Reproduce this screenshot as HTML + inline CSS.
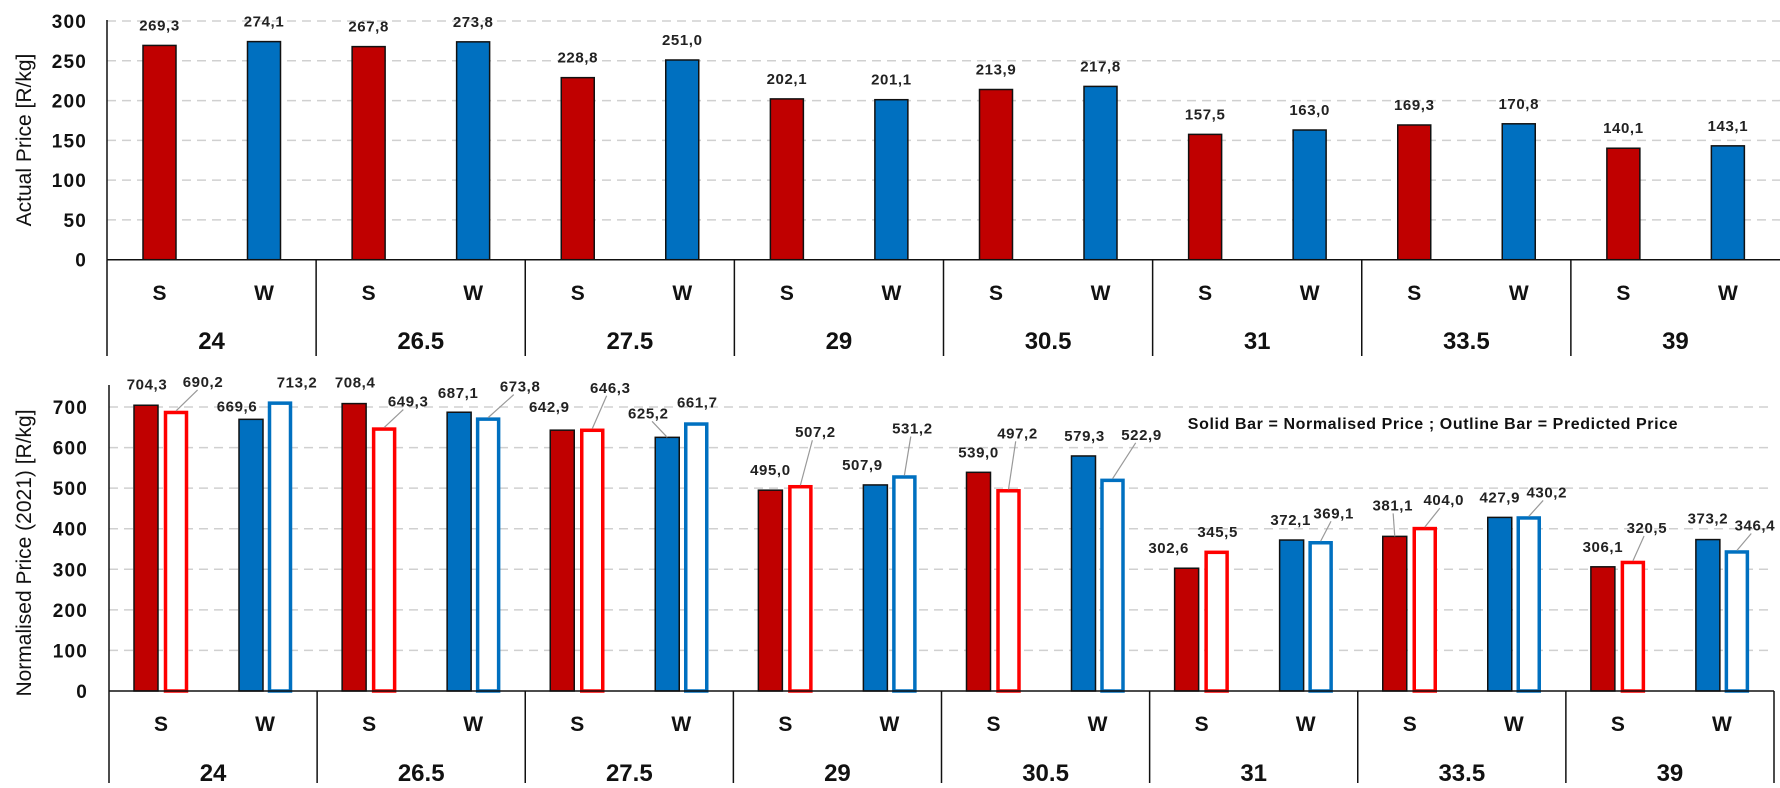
<!DOCTYPE html>
<html><head><meta charset="utf-8">
<style>
html,body{margin:0;padding:0;background:#fff;}
svg{display:block;font-family:"Liberation Sans",sans-serif;}
</style></head>
<body>
<svg id="chart" width="1780" height="788" viewBox="0 0 1780 788"></svg>
<script>
const groups = ["24","26.5","27.5","29","30.5","31","33.5","39"];
const seasons = ["S","W"];
const actualS = [269.3,267.8,228.8,202.1,213.9,157.5,169.3,140.1];
const actualW = [274.1,273.8,251.0,201.1,217.8,163.0,170.8,143.1];
const normS = [704.3,708.4,642.9,495.0,539.0,302.6,381.1,306.1];
const predS = [690.2,649.3,646.3,507.2,497.2,345.5,404.0,320.5];
const normW = [669.6,687.1,625.2,507.9,579.3,372.1,427.9,373.2];
const predW = [713.2,673.8,661.7,531.2,522.9,369.1,430.2,346.4];
const topTicks = [0,50,100,150,200,250,300];
const botTicks = [0,100,200,300,400,500,600,700];
// label offsets (style): [dx,dy,leader] per bar in order normS,predS,normW,predW
const labOff = [
 [[1,-21,0],[27,-29,1],[-14,-13,0],[17,-19,0]],
 [[1,-21,0],[24,-26,1],[-1,-19,0],[32,-31,1]],
 [[-13,-23,0],[18,-41,1],[-19,-24,1],[1,-20,0]],
 [[0,-20,0],[15,-53,1],[-13,-20,0],[8,-47,1]],
 [[0,-20,0],[9,-56,1],[1,-20,0],[29,-44,1]],
 [[-18,-20,0],[1,-19,0],[-1,-20,0],[13,-28,1]],
 [[-2,-31,1],[19,-27,1],[0,-20,0],[18,-24,1]],
 [[0,-20,0],[14,-33,1],[0,-21,0],[18,-25,1]]
];
const NS="http://www.w3.org/2000/svg";
const svg=document.getElementById('chart');
function mk(tag,attrs,parent,text){const e=document.createElementNS(NS,tag);for(const k in attrs)e.setAttribute(k,attrs[k]);if(text!==undefined)e.textContent=text;(parent||svg).appendChild(e);return e;}
const fmt=v=>v.toFixed(1).replace('.',',');
const LBL={'font-size':15,'font-weight':'bold',fill:'#222','letter-spacing':0.6};
const TICK={'font-size':19,'font-weight':'bold',fill:'#111','letter-spacing':1.2};

// ---------- TOP CHART ----------
const T={x0:107,x1:1780,y0:259.7,max:300,h:238.7};
const tY=v=>T.y0-v/T.max*T.h;
const tGW=(T.x1-T.x0)/groups.length;
const gTop=mk('g',{});


topTicks.forEach(t=>{
  if(t>0){const l=mk('line',{x1:T.x0,x2:T.x1,y1:tY(t),y2:tY(t),stroke:'#d0d0d0','stroke-width':1.5,'stroke-dasharray':'9 6'},gTop);
  }
  const tx=mk('text',Object.assign({x:87,y:tY(t)+7,'text-anchor':'end'},TICK),gTop,String(t));
  
});
let yt=mk('text',{x:0,y:0,transform:'translate(31,140) rotate(-90)','text-anchor':'middle','font-size':21,fill:'#111'},gTop,'Actual Price [R/kg]');

groups.forEach((g,i)=>{
  const gs=T.x0+i*tGW;
  [[actualS[i],'#c00000',52.5,'S'],[actualW[i],'#0070c0',157,'W']].forEach(([v,c,off,s])=>{
    const cx=gs+off;
    const r=mk('rect',{x:cx-16.5,y:tY(v),width:33,height:T.y0-tY(v),fill:c,stroke:'#111','stroke-width':1.5},gTop);
    
    const lb=mk('text',Object.assign({x:cx,y:tY(v)-15,'text-anchor':'middle'},LBL),gTop,fmt(v));
    
    const sl=mk('text',{x:cx,y:300,'text-anchor':'middle','font-size':21,'font-weight':'bold',fill:'#111'},gTop,s);
    
  });
  const gl=mk('text',{x:gs+tGW/2,y:349,'text-anchor':'middle','font-size':24,'font-weight':'bold',fill:'#111'},gTop,g);
  
  const sep=mk('line',{x1:gs,x2:gs,y1:T.y0,y2:356,stroke:'#111','stroke-width':1.5},gTop);
  
});
let ax=mk('line',{x1:T.x0,x2:T.x1,y1:T.y0,y2:T.y0,stroke:'#111','stroke-width':1.5},gTop);

ax=mk('line',{x1:T.x0,x2:T.x0,y1:20,y2:T.y0,stroke:'#111','stroke-width':1.5},gTop);


// ---------- BOTTOM CHART ----------
const B={x0:109,x1:1774,y0:691,max:700,h:284};
const bY=v=>B.y0-v/B.max*B.h;
const bGW=(B.x1-B.x0)/groups.length;
const gBot=mk('g',{});


botTicks.forEach(t=>{
  if(t>0){const l=mk('line',{x1:B.x0,x2:B.x1,y1:bY(t),y2:bY(t),stroke:'#d0d0d0','stroke-width':1.5,'stroke-dasharray':'9 6'},gBot);
  }
  const tx=mk('text',Object.assign({x:88,y:bY(t)+7,'text-anchor':'end'},TICK),gBot,String(t));
  
});
yt=mk('text',{x:0,y:0,transform:'translate(31,553) rotate(-90)','text-anchor':'middle','font-size':21,fill:'#111'},gBot,'Normalised Price (2021) [R/kg]');

const lg=mk('text',{x:1433,y:429,'text-anchor':'middle','font-size':16,'font-weight':'bold',fill:'#111','letter-spacing':0.6},gBot,'Solid Bar = Normalised Price ; Outline Bar = Predicted Price');

groups.forEach((g,i)=>{
  const gs=B.x0+i*bGW;
  const bars=[[normS[i],'#c00000',37,true,'normalised-S'],[predS[i],'#ff0000',67,false,'predicted-S'],
              [normW[i],'#0070c0',142,true,'normalised-W'],[predW[i],'#0070c0',171,false,'predicted-W']];
  bars.forEach(([v,c,off,solid,nm],k)=>{
    const cx=gs+off, top=bY(v);
    let r;
    if(solid) r=mk('rect',{x:cx-12,y:top,width:24,height:B.y0-top,fill:c,stroke:'#111','stroke-width':1.5},gBot);
    else r=mk('rect',{x:cx-10.5,y:top+1.5,width:21,height:B.y0-top-1.5,fill:'#fff',stroke:c,'stroke-width':3.5},gBot);
    
    const [dx,dy,lead]=labOff[i][k];
    const lx=cx+dx, ly=top+dy;
    if(lead){const ll=mk('line',{x1:lx-dx*0.2,y1:ly+8,x2:cx,y2:top,stroke:'#999','stroke-width':1.2},gBot);
      }
    const lb=mk('text',Object.assign({x:lx,y:ly+5,'text-anchor':'middle'},LBL),gBot,fmt(v));
    
  });
  [['S',52],['W',156]].forEach(([s,off])=>{
    const sl=mk('text',{x:gs+off,y:731,'text-anchor':'middle','font-size':21,'font-weight':'bold',fill:'#111'},gBot,s);
    
  });
  const gl=mk('text',{x:gs+bGW/2,y:781,'text-anchor':'middle','font-size':24,'font-weight':'bold',fill:'#111'},gBot,g);
  
  const sep=mk('line',{x1:gs,x2:gs,y1:B.y0,y2:783,stroke:'#111','stroke-width':1.5},gBot);
  
});
const endSep=mk('line',{x1:B.x1,x2:B.x1,y1:B.y0,y2:783,stroke:'#111','stroke-width':1.5},gBot);

ax=mk('line',{x1:B.x0,x2:B.x1,y1:B.y0,y2:B.y0,stroke:'#111','stroke-width':1.5},gBot);

ax=mk('line',{x1:B.x0,x2:B.x0,y1:385,y2:B.y0,stroke:'#111','stroke-width':1.5},gBot);

</script>
</body></html>
